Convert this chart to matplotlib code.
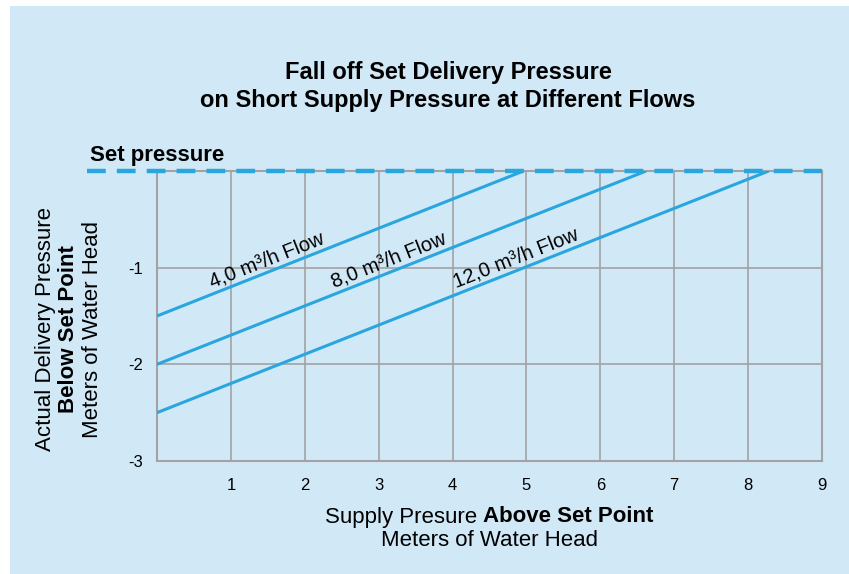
import numpy as np
import matplotlib.pyplot as plt
from matplotlib.patches import Rectangle

plt.rcParams['font.family'] = ['Liberation Sans', 'DejaVu Sans']
plt.rcParams['lines.scale_dashes'] = False
plt.rcParams['axes.unicode_minus'] = False

# --- data
flows = ['4,0', '8,0', '12,0']           # m3/h
start_y = [-1.5, -2.0, -2.5]              # delivery pressure at zero supply excess
end_x = [4.96, 6.62, 8.28]                # supply pressure where set point is reached
label_x = [1.53, 3.18, 4.9]               # where the flow labels sit along each line
xticks = [1, 2, 3, 4, 5, 6, 7, 8, 9]
yticks = [-1, -2, -3]

bg = '#d1e8f7'
blue = '#2aa6df'
grid = '#a3a3a3'

fig = plt.figure(figsize=(8.49, 5.74), dpi=100)
fig.patch.set_facecolor('white')
fig.patches.append(Rectangle((10/849, 0), 1, 1 - 6/574, transform=fig.transFigure,
                             facecolor=bg, edgecolor='none', zorder=-10))

W, H = 849, 574
x0, x1, y0, y1 = 157, 822, 171, 461
ax = fig.add_axes([x0/W, 1 - y1/H, (x1-x0)/W, (y1-y0)/H])
ax.set_facecolor(bg)
ax.set_xlim(0, 9)
ax.set_ylim(-3, 0)

for s in ax.spines.values():
    s.set_color(grid)
    s.set_linewidth(1.5)
ax.set_xticks(xticks)
ax.set_yticks(yticks)
ax.tick_params(length=0, labelsize=12, pad=10)
ax.tick_params(axis='x', pad=12)
ax.grid(True, color=grid, lw=1.2)
ax.set_axisbelow(True)

# set pressure reference (dashed, extends left past the axes)
ax.plot([-0.95, 9], [0, 0], color=blue, lw=3.2, dashes=(13.5, 8), clip_on=False,
        solid_capstyle='butt', dash_capstyle='butt', zorder=5)

# flow lines
for f, sy, ex, lx in zip(flows, start_y, end_x, label_x):
    ax.plot([0, ex], [sy, 0], color=blue, lw=2.2, zorder=4, solid_capstyle='butt')
    ly = sy + (-sy / ex) * lx
    p1 = ax.transData.transform((0, sy))
    p2 = ax.transData.transform((ex, 0))
    ang = np.degrees(np.arctan2(p2[1] - p1[1], p2[0] - p1[0]))
    ax.annotate(f'{f} m³/h Flow', (lx, ly), xytext=(0, 2), textcoords='offset points',
                rotation=ang, rotation_mode='anchor', ha='center', va='bottom',
                fontsize=14.5, zorder=6)

# titles and labels
tx = 448 / W
fig.text(tx, 1 - 72/H, 'Fall off Set Delivery Pressure', ha='center', va='center',
         fontsize=17, fontweight='bold')
fig.text(tx, 1 - 100/H, 'on Short Supply Pressure at Different Flows', ha='center',
         va='center', fontsize=17, fontweight='bold')
fig.text(90/W, 1 - 156/H, 'Set pressure', ha='left', va='center', fontsize=16,
         fontweight='bold')

cy = 1 - 329/H
fig.text(46/W, cy, 'Actual Delivery Pressure', rotation=90, ha='center', va='center',
         fontsize=16)
fig.text(69/W, cy, 'Below Set Point', rotation=90, ha='center', va='center',
         fontsize=16, fontweight='bold')
fig.text(92/W, cy, 'Meters of Water Head', rotation=90, ha='center', va='center',
         fontsize=16)

cx = (x0 + x1) / 2 / W
t1 = fig.text(0, 1 - 517/H, 'Supply Presure ', ha='left', va='center', fontsize=16)
t2 = fig.text(0, 1 - 517/H, 'Above Set Point', ha='left', va='center', fontsize=16,
              fontweight='bold')
r = fig.canvas.get_renderer()
w1 = t1.get_window_extent(r).width / W
w2 = t2.get_window_extent(r).width / W
t1.set_x(cx - (w1 + w2) / 2)
t2.set_x(cx - (w1 + w2) / 2 + w1)
fig.text(cx, 1 - 540/H, 'Meters of Water Head', ha='center', va='center', fontsize=16)

fig.savefig('out.png', dpi=100, facecolor=fig.get_facecolor())
